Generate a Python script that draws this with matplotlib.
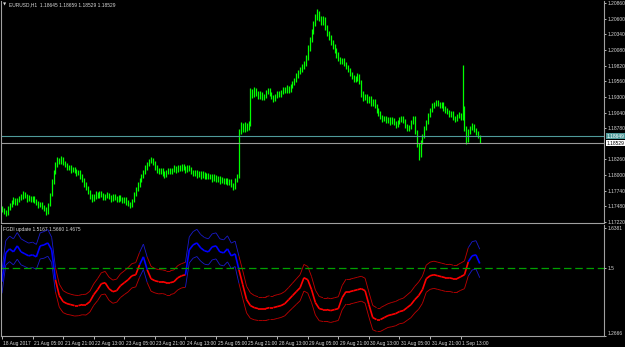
import numpy as np
import matplotlib.pyplot as plt
from matplotlib.collections import LineCollection
import matplotlib.transforms as mtransforms

# EURUSD H1, 18 Aug 2017 13:00 .. 1 Sep 2017 23:00, prices as pips above 1.1700
BASE = 1.1700
PIP = 0.0001

high_pips = [
    48, 45, 42, 48, 54, 58, 63, 62, 62, 66, 68, 73, 72, 68, 67, 66,
    66, 65, 60, 57, 56, 55, 50, 47, 53, 70, 93, 109, 121, 130, 129, 132,
    130, 124, 120, 117, 116, 114, 113, 110, 109, 108, 101, 95, 88, 82, 75, 68,
    68, 73, 72, 74, 73, 70, 69, 72, 71, 67, 68, 69, 65, 67, 67, 63,
    64, 63, 58, 55, 60, 72, 81, 88, 96, 102, 109, 116, 122, 127, 130, 128,
    123, 116, 111, 112, 111, 106, 109, 112, 111, 112, 116, 115, 117, 116, 119, 118,
    115, 117, 116, 113, 108, 109, 108, 107, 106, 106, 105, 104, 103, 102, 101, 101,
    100, 99, 98, 97, 96, 96, 95, 94, 93, 87, 95, 102, 176, 188, 186, 188,
    187, 190, 245, 243, 246, 245, 239, 239, 238, 235, 242, 245, 244, 238, 233, 235,
    240, 239, 242, 247, 246, 249, 248, 252, 257, 262, 269, 275, 279, 284, 289, 300,
    316, 330, 343, 356, 368, 376, 373, 365, 364, 362, 349, 340, 333, 325, 318, 311,
    304, 296, 295, 294, 288, 283, 278, 271, 266, 265, 269, 268, 258, 239, 235, 234,
    232, 231, 227, 226, 218, 211, 206, 200, 199, 198, 197, 196, 196, 195, 190, 192,
    196, 199, 198, 193, 185, 184, 192, 199, 198, 175, 153, 159, 169, 182, 192, 204,
    212, 219, 222, 225, 224, 221, 222, 221, 214, 211, 208, 207, 206, 199, 202, 205,
    204, 283, 215, 181, 176, 182, 186, 185, 178, 173, 166,
]
low_pips = [
    38, 35, 32, 34, 42, 47, 52, 50, 51, 56, 58, 61, 62, 56, 57, 55,
    55, 53, 50, 46, 47, 43, 40, 33, 36, 48, 65, 86, 102, 114, 118, 119,
    116, 113, 108, 109, 104, 105, 103, 99, 100, 94, 88, 81, 75, 68, 61, 56,
    57, 61, 62, 62, 63, 58, 59, 62, 60, 56, 57, 59, 55, 56, 57, 53,
    54, 51, 48, 45, 47, 55, 66, 74, 81, 89, 95, 102, 109, 115, 120, 116,
    109, 104, 101, 102, 99, 96, 97, 102, 101, 102, 105, 104, 105, 106, 107, 108,
    104, 105, 106, 101, 98, 99, 96, 97, 94, 95, 93, 94, 93, 94, 89, 90,
    88, 89, 86, 87, 85, 86, 83, 84, 80, 75, 77, 89, 95, 168, 171, 172,
    174, 175, 182, 228, 230, 232, 226, 227, 224, 225, 228, 235, 231, 226, 222, 223,
    228, 229, 230, 235, 236, 237, 237, 238, 245, 250, 255, 262, 268, 272, 277, 282,
    292, 307, 321, 334, 347, 358, 356, 349, 350, 341, 331, 325, 316, 310, 303, 295,
    289, 284, 285, 281, 276, 271, 264, 259, 254, 255, 257, 251, 230, 223, 224, 219,
    220, 214, 215, 211, 204, 199, 193, 189, 190, 186, 187, 184, 185, 183, 179, 180,
    185, 189, 186, 178, 173, 174, 177, 185, 168, 146, 125, 130, 152, 162, 175, 185,
    197, 205, 212, 215, 214, 211, 212, 207, 204, 201, 196, 197, 192, 189, 190, 195,
    191, 192, 174, 152, 155, 169, 175, 171, 166, 161, 153,
]

# FGDI, one value every 2 bars
fgdi_step = 2
fgdi_mid = [
    1.4536, 1.5533, 1.5671, 1.5568, 1.5774, 1.5568, 1.5499, 1.5430,
    1.5464, 1.5396, 1.5774, 1.5808, 1.5877, 1.5636, 1.4604, 1.4054,
    1.3848, 1.3779, 1.3744, 1.3710, 1.3710, 1.3744, 1.3744, 1.3848,
    1.4088, 1.4260, 1.4467, 1.4501, 1.4295, 1.4192, 1.4226, 1.4398,
    1.4501, 1.4604, 1.4742, 1.4776, 1.5120, 1.5396, 1.4948, 1.4639,
    1.4570, 1.4536, 1.4536, 1.4501, 1.4501, 1.4536, 1.4673, 1.4742,
    1.4776, 1.5636, 1.5808, 1.5877, 1.5705, 1.5602, 1.5568, 1.5740,
    1.5774, 1.5568, 1.5533, 1.5671, 1.5430, 1.5499, 1.4948, 1.4432,
    1.3916, 1.3710, 1.3641, 1.3607, 1.3607, 1.3607, 1.3641, 1.3641,
    1.3676, 1.3710, 1.3779, 1.3916, 1.4054, 1.4192, 1.4329, 1.4673,
    1.4604, 1.4260, 1.3813, 1.3607, 1.3572, 1.3572, 1.3538, 1.3572,
    1.3607, 1.3985, 1.4192, 1.4192, 1.4226, 1.4260, 1.4295, 1.4226,
    1.3744, 1.3297, 1.3228, 1.3228, 1.3297, 1.3366, 1.3400, 1.3435,
    1.3504, 1.3538, 1.3641, 1.3744, 1.3916, 1.4054, 1.4260, 1.4639,
    1.4742, 1.4776, 1.4742, 1.4708, 1.4673, 1.4673, 1.4639, 1.4639,
    1.4708, 1.4776, 1.5224, 1.5430, 1.5464, 1.5167,
]
fgdi_half = [
    0.040, 0.042, 0.044, 0.045, 0.046, 0.045, 0.044, 0.044,
    0.044, 0.043, 0.045, 0.046, 0.046, 0.044, 0.042, 0.040,
    0.038, 0.037, 0.036, 0.036, 0.035, 0.035, 0.036, 0.036,
    0.037, 0.038, 0.038, 0.039, 0.040, 0.040, 0.040, 0.041,
    0.041, 0.042, 0.042, 0.042, 0.043, 0.044, 0.044, 0.043,
    0.042, 0.042, 0.041, 0.041, 0.041, 0.041, 0.042, 0.042,
    0.043, 0.045, 0.046, 0.047, 0.046, 0.046, 0.045, 0.045,
    0.045, 0.045, 0.045, 0.045, 0.044, 0.044, 0.047, 0.048,
    0.046, 0.044, 0.042, 0.041, 0.041, 0.041, 0.041, 0.041,
    0.041, 0.041, 0.042, 0.042, 0.043, 0.044, 0.045, 0.046,
    0.046, 0.045, 0.043, 0.042, 0.041, 0.041, 0.041, 0.041,
    0.041, 0.042, 0.043, 0.043, 0.043, 0.043, 0.043, 0.043,
    0.043, 0.042, 0.041, 0.041, 0.041, 0.041, 0.042, 0.042,
    0.042, 0.043, 0.044, 0.045, 0.046, 0.047, 0.047, 0.047,
    0.047, 0.047, 0.047, 0.047, 0.047, 0.047, 0.047, 0.047,
    0.047, 0.048, 0.049, 0.049, 0.049, 0.0493,
]
fgdi_level = 1.5

label_step = 16
x_labels = ['18 Aug 2017', '21 Aug 05:00', '21 Aug 21:00', '22 Aug 13:00',
            '23 Aug 05:00', '23 Aug 21:00', '24 Aug 13:00', '25 Aug 05:00',
            '25 Aug 21:00', '28 Aug 13:00', '29 Aug 05:00', '29 Aug 21:00',
            '30 Aug 13:00', '31 Aug 05:00', '31 Aug 21:00', '1 Sep 13:00']

price_ticks = [1.17220, 1.17480, 1.17740, 1.18000, 1.18260, 1.18780, 1.19040,
               1.19300, 1.19560, 1.19820, 1.20080, 1.20340, 1.20600, 1.20860]
ind_ticks = [1.2666, 1.5, 1.6381]
ask_price = 1.18649
bid_price = 1.18529
header = 'EURUSD,H1  1.18645 1.18659 1.18529 1.18529'
ind_header = 'FGDI update 1.5167 1.5660 1.4675'

W, H = 625, 347
FS = 3.5
TXT = '#d8d8d8'
GRID = '#a0a0a0'
plt.rcParams['font.family'] = ['Liberation Sans Narrow', 'Liberation Sans', 'DejaVu Sans']


def px_box(x0, y0, x1, y1):
    return [x0 / W, 1 - y1 / H, (x1 - x0) / W, (y1 - y0) / H]


def style_axis(ax):
    ax.set_facecolor('black')
    for s in ax.spines.values():
        s.set_color(GRID)
        s.set_linewidth(0.8)
    ax.spines['top'].set_visible(False)
    ax.yaxis.tick_right()
    ax.tick_params(axis='y', colors=TXT, labelsize=FS, length=1.5, width=0.6, pad=0.8)


def color_segments(ax, xs, ys, state, lw, up_col, dn_col):
    pts = np.column_stack([xs, ys])
    segs = np.stack([pts[:-1], pts[1:]], axis=1)
    cols = [up_col if s else dn_col for s in state]
    ax.add_collection(LineCollection(segs, colors=cols, linewidths=lw))


fig = plt.figure(figsize=(W / 100, H / 100), dpi=100, facecolor='black')
ax = fig.add_axes(px_box(1, 1, 604, 223))
ax2 = fig.add_axes(px_box(1, 225, 604, 336))
style_axis(ax)
style_axis(ax2)

# price bars
hi = BASE + np.array(high_pips) * PIP
lo = BASE + np.array(low_pips) * PIP
idx = np.arange(len(hi))
ax.vlines(idx, lo, hi, color='#00ff00', linewidth=0.9)

ax.axhline(ask_price, color='#4f9a9a', linewidth=0.8)
ax.axhline(bid_price, color='#9a9a9a', linewidth=0.8)

ax.set_xlim(-0.5, 315)
ax.set_ylim(1.17204, 1.20893)
ax.set_xticks([])
ax.set_yticks(price_ticks)
ax.set_yticklabels(['%.5f' % v for v in price_ticks])

for price, fc, tc in [(ask_price, '#4f9a9a', 'white'), (bid_price, 'white', 'black')]:
    ax.annotate('%.5f' % price, xy=(1.0, price), xycoords=('axes fraction', 'data'),
                xytext=(1.6, 0), textcoords='offset points', va='center', ha='left',
                fontsize=FS, color=tc, annotation_clip=False,
                bbox=dict(boxstyle='square,pad=0.12', fc=fc, ec='none'))

# FGDI
mid = np.array(fgdi_mid)
half = np.array(fgdi_half)
fx = np.arange(len(mid)) * fgdi_step
up = (mid[:-1] + mid[1:]) / 2 > fgdi_level
color_segments(ax2, fx, mid + half, up, 0.6, '#1a1acc', '#c40000')
color_segments(ax2, fx, mid - half, up, 0.6, '#1a1acc', '#c40000')
color_segments(ax2, fx, mid, up, 1.2, '#0000ff', '#ff0000')
ax2.axhline(fgdi_level, color='#00a000', linewidth=0.9, dashes=(6, 3))

ax2.set_xlim(-0.5, 315)
ax2.set_ylim(1.2660, 1.6496)
ax2.set_yticks(ind_ticks)
ax2.set_yticklabels(['%g' % v for v in ind_ticks])
ax2.get_yticklabels()[0].set_va('bottom')

ax2.set_xticks(np.arange(len(x_labels)) * label_step)
ax2.set_xticklabels(x_labels)
ax2.tick_params(axis='x', colors=TXT, labelsize=FS, length=2.5, width=0.6, pad=1.2)
shift = mtransforms.ScaledTranslation(1.5 / 100, 0, fig.dpi_scale_trans)
for lbl in ax2.get_xticklabels():
    lbl.set_ha('left')
    lbl.set_transform(lbl.get_transform() + shift)

fig.text(3 / W, 1 - 5 / H, '\u25bc', color=TXT, fontsize=3, va='center', ha='left',
         family='DejaVu Sans')
fig.text(9 / W, 1 - 5 / H, header, color=TXT, fontsize=FS, va='center', ha='left')
fig.text(3 / W, 1 - 229 / H, ind_header, color=TXT, fontsize=FS, va='center', ha='left')

fig.savefig('out.png', dpi=100, facecolor='black')
